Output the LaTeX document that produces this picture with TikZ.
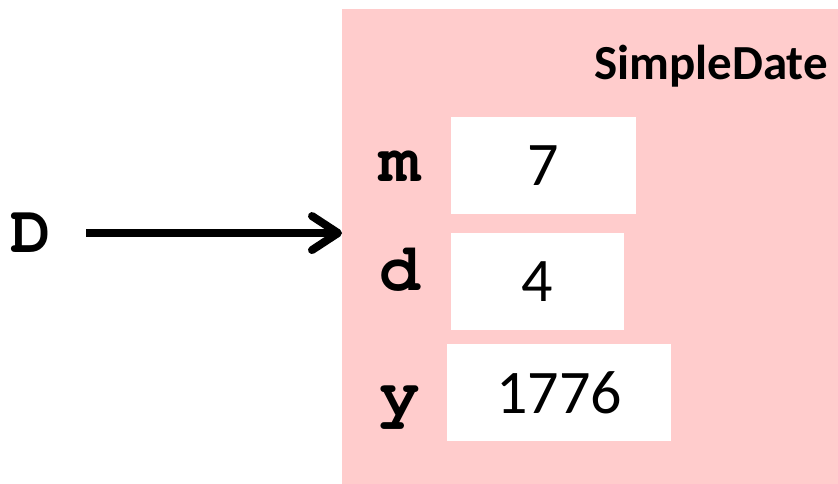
\documentclass[tikz,border=0pt]{standalone}
\usepackage[T1]{fontenc}
\usepackage{fontspec}
\setmainfont{Carlito}
\newcommand{\codeFont}{\fontencoding{T1}\fontfamily{pcr}\fontseries{b}\selectfont}
\usetikzlibrary{positioning,arrows.meta}
\tikzstyle{memory} = [x = 1pt, y = -1pt]
\definecolor{objectColor}{RGB}{255,204,204}
\tikzstyle{objectStyle} = [fill=objectColor, inner sep=0pt, anchor=north west, minimum width=496pt, minimum height=475pt]
\tikzstyle{classText} = [font=\bfseries\fontsize{49}{49}\selectfont, anchor=base east, inner sep=0pt]
\tikzstyle{valueStyle} = [fill=white, inner sep=0pt, font=\fontsize{62}{62}\selectfont]
\tikzstyle{fieldText} = [font=\fontsize{68}{68}\codeFont, anchor=base, inner sep=0pt]
\tikzstyle{pointerStyle} = [line width=8pt, -{Straight Barb[length=26pt, width=34pt, round]}]
\newcommand{\field}[8]{\node [valueStyle, minimum width=#5, minimum height=#6] (#1) at (#3,#4) {#7}; \node [fieldText] (#1Label) at (400,#8) {#2};}

\begin{document}
\begin{tikzpicture}[memory]
  \useasboundingbox (0,0) rectangle (838,484);
  \node [objectStyle] (object) at (342,9) {};
  \node [classText] (className) at (828,80) {SimpleDate};
  \field{month}{m}{543.5}{165.5}{185pt}{97pt}{7}{182}
  \field{day}{d}{537.5}{281.5}{173pt}{97pt}{4}{290}
  \field{year}{y}{559}{392.5}{224pt}{97pt}{1776}{415}
  \node [fieldText] (D) at (30.5,252) {D};
  \draw [pointerStyle, shorten <=35pt] (D) -- (D -| object.west);
\end{tikzpicture}
\end{document}
